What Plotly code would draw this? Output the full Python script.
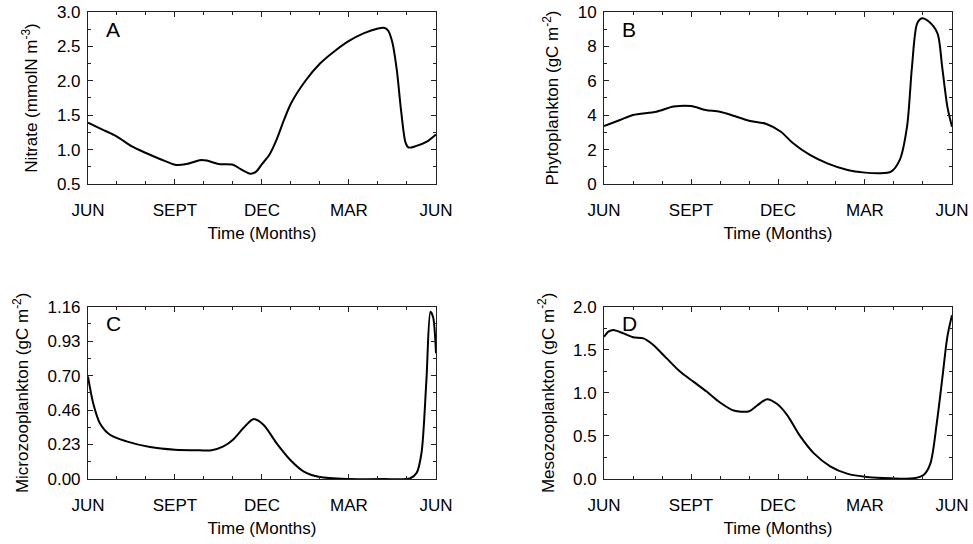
#seasonal cycle plots: nitrate, phyto, micro- and mesozooplankton

#%%
import plotly.graph_objects as go

#%%
#values, x in months since JUN

month_ticks = [0, 3, 6, 9, 12]
month_labels = ["JUN", "SEPT", "DEC", "MAR", "JUN"]

nit_t = [0, 0.5, 1, 1.5, 2, 2.5, 3, 3.4, 3.9, 4.1, 4.5, 5.0, 5.25, 5.6, 5.8, 6.0,
         6.25, 6.5, 6.75, 7.0, 7.5, 8.0, 8.5, 9.0, 9.5, 10.0, 10.2, 10.35, 10.5,
         10.65, 10.8, 10.95, 11.05, 11.3, 11.7, 12]
nit = [1.39, 1.29, 1.19, 1.05, 0.95, 0.86, 0.78, 0.79, 0.85, 0.84, 0.79, 0.78, 0.72,
       0.65, 0.68, 0.79, 0.92, 1.14, 1.42, 1.67, 2.0, 2.25, 2.43, 2.58, 2.69, 2.76,
       2.77, 2.73, 2.55, 2.15, 1.55, 1.1, 1.03, 1.05, 1.12, 1.22]

phy_t = [0, 0.55, 1.0, 1.8, 2.4, 3.0, 3.5, 4.0, 4.5, 5.0, 5.6, 6.1, 6.5, 7.1, 7.7,
         8.4, 9.0, 9.5, 9.9, 10.2, 10.45, 10.62, 10.8, 10.97, 11.2, 11.5, 11.66,
         11.84, 12]
phy = [3.37, 3.72, 4.01, 4.2, 4.5, 4.53, 4.3, 4.2, 3.95, 3.68, 3.49, 3.04, 2.4, 1.69,
       1.2, 0.81, 0.66, 0.62, 0.72, 1.4, 3.33, 6.8, 9.34, 9.63, 9.44, 8.76, 6.82,
       4.5, 3.33]

mic_t = [0, 0.18, 0.41, 0.76, 1.33, 2.14, 3.0, 3.86, 4.26, 4.67, 5.0, 5.36, 5.7, 6.05,
         6.5, 6.97, 7.43, 8.0, 9.0, 10.2, 11.1, 11.33, 11.5, 11.67, 11.81, 11.9, 12]
mic = [0.69, 0.51, 0.376, 0.298, 0.253, 0.215, 0.197, 0.193, 0.193, 0.219, 0.264,
       0.343, 0.403, 0.365, 0.242, 0.13, 0.052, 0.013, 0.0, 0.0, 0.004, 0.04, 0.175,
       0.667, 1.126, 1.09, 0.846]

mes_t = [0, 0.15, 0.32, 0.67, 1.0, 1.36, 1.7, 2.16, 2.62, 3.08, 3.54, 4.0, 4.47, 4.98,
         5.27, 5.62, 5.96, 6.31, 6.77, 7.23, 7.8, 8.38, 9.07, 9.88, 10.68, 11.03,
         11.26, 11.49, 11.66, 11.84, 12]
mes = [1.65, 1.71, 1.73, 1.69, 1.645, 1.633, 1.556, 1.4, 1.247, 1.13, 1.015, 0.888,
       0.795, 0.784, 0.85, 0.927, 0.873, 0.745, 0.494, 0.3, 0.147, 0.062, 0.023,
       0.008, 0.008, 0.05, 0.185, 0.687, 1.15, 1.65, 1.9]

mic_ticks = [0, 0.232, 0.464, 0.696, 0.928, 1.16]
mic_labels = ["0.00", "0.23", "0.46", "0.70", "0.93", "1.16"]

#%%
FONT = "Liberation Sans, Arial, sans-serif"

left_col = [0.0904, 0.4481]
right_col = [0.6208, 0.9784]
top_row = [0.6618, 0.978]
bot_row = [0.1195, 0.4362]

panels = [
    #(t, y, letter, ytitle, yrange, ytickvals, yticktext, minor dtick, xdomain, ydomain)
    (nit_t, nit, "A", "Nitrate (mmolN m<sup>-3</sup>)", [0.5, 3.0],
     [0.5, 1.0, 1.5, 2.0, 2.5, 3.0], ["0.5", "1.0", "1.5", "2.0", "2.5", "3.0"], 0.25,
     left_col, top_row),
    (phy_t, phy, "B", "Phytoplankton (gC m<sup>-2</sup>)", [0, 10],
     [0, 2, 4, 6, 8, 10], ["0", "2", "4", "6", "8", "10"], 1,
     right_col, top_row),
    (mic_t, mic, "C", "Microzooplankton (gC m<sup>-2</sup>)", [0, 1.16],
     mic_ticks, mic_labels, 0.116,
     left_col, bot_row),
    (mes_t, mes, "D", "Mesozooplankton (gC m<sup>-2</sup>)", [0, 2.0],
     [0, 0.5, 1.0, 1.5, 2.0], ["0.0", "0.5", "1.0", "1.5", "2.0"], 0.25,
     right_col, bot_row),
]

fig = go.Figure()
layout = {}

for i, (t, y, letter, ytitle, yr, yv, yt, ymin, xd, yd) in enumerate(panels):
    n = "" if i == 0 else str(i + 1)
    fig.add_trace(go.Scatter(
        x=t, y=y, mode="lines", xaxis="x" + n, yaxis="y" + n,
        line=dict(color="black", width=2, shape="spline", smoothing=0.8),
        showlegend=False,
    ))
    layout["xaxis" + n] = dict(
        domain=xd, anchor="y" + n, range=[0, 12], automargin=False,
        tickvals=month_ticks, ticktext=month_labels,
        ticks="inside", ticklen=5, tickcolor="#222",
        minor=dict(dtick=1, tick0=0, ticks="inside", ticklen=3, tickcolor="#222"),
        showline=True, linecolor="#222", linewidth=1, mirror="allticks",
        showgrid=False, zeroline=False, ticklabelstandoff=11,
        title=dict(text="Time (Months)", standoff=7, font=dict(size=17)),
    )
    layout["yaxis" + n] = dict(
        domain=yd, anchor="x" + n, range=yr, automargin=False,
        tickvals=yv, ticktext=yt,
        ticks="inside", ticklen=5, tickcolor="#222",
        minor=dict(dtick=ymin, tick0=yr[0], ticks="inside", ticklen=3, tickcolor="#222"),
        showline=True, linecolor="#222", linewidth=1, mirror="allticks",
        showgrid=False, zeroline=False, ticklabelstandoff=3,
        title=dict(text=ytitle, standoff=14, font=dict(size=17)),
    )
    fig.add_annotation(
        text=letter, xref=("x" + n) + " domain", yref=("y" + n) + " domain",
        x=0.045, y=0.9, xanchor="left", yanchor="middle", showarrow=False,
        font=dict(size=21, color="black", family=FONT),
    )

fig.update_layout(
    **layout,
    width=973, height=544,
    margin=dict(l=0, r=0, t=0, b=0),
    paper_bgcolor="white", plot_bgcolor="white",
    font=dict(family=FONT, size=17, color="black"),
)

#drop the default 8px body margin so the figure sits at the page corner
fig.write_html("out.html", config={"displayModeBar": False},
               post_script="document.body.style.margin = '0';")
